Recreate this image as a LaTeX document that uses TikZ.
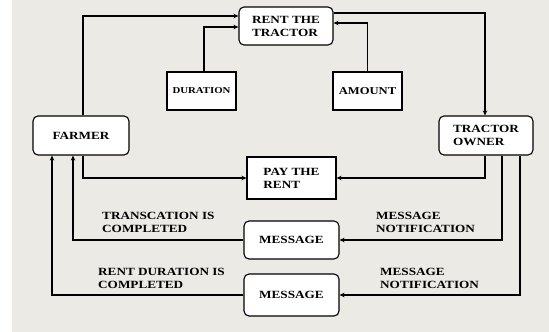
\documentclass[tikz,border=0pt]{standalone}
\usepackage{fontspec}
\setmainfont{Liberation Serif}[FakeStretch=1.2]
\usetikzlibrary{arrows.meta}
\definecolor{panel}{HTML}{ECEAE4}
\begin{document}
\begin{tikzpicture}[x=1pt,y=-1pt,
  txt/.style={font=\bfseries\fontsize{11}{13}\selectfont, align=left},
  boxbase/.style={draw=black, line width=1.1pt, fill=white, inner sep=2pt, txt},
  rbox/.style={boxbase, rounded corners=5pt},
  sbox/.style={boxbase},
  arr/.style={line width=1.4pt, -{Stealth[length=5pt,width=4.5pt]}},
  lbl/.style={txt, anchor=north west, inner sep=0pt}]
  % page and backdrop
  \useasboundingbox (0,0) rectangle (549,332);
  \fill[white] (0,0) rectangle (549,332);
  \fill[panel] (12,0) rectangle (549,332);

  % boxes
  \node[rbox, minimum width=94pt, minimum height=38pt] (rent) at (286,26) {RENT THE\\TRACTOR};
  \node[sbox, minimum width=69pt, minimum height=38pt, font=\bfseries\fontsize{9}{11}\selectfont] (duration) at (201.5,91) {DURATION};
  \node[sbox, minimum width=69pt, minimum height=38pt, font=\bfseries\fontsize{10.5}{12}\selectfont] (amount) at (367.5,91) {AMOUNT};
  \node[rbox, minimum width=96pt, minimum height=39pt] (farmer) at (81,135.5) {FARMER};
  \node[rbox, minimum width=94pt, minimum height=39pt] (owner) at (486,135.5) {TRACTOR\\OWNER};
  \node[sbox, minimum width=89pt, minimum height=42pt] (pay) at (291.5,178) {PAY THE\\RENT};
  \node[rbox, minimum width=95pt, minimum height=38pt] (msgA) at (291.5,240) {MESSAGE};
  \node[rbox, minimum width=95pt, minimum height=42pt] (msgB) at (291.5,295) {MESSAGE};

  % connectors
  \draw[arr] ([xshift=2pt]farmer.north) |- ([yshift=10pt]rent.west);
  \draw[arr] ([xshift=2.5pt]duration.north) |- ([yshift=-1pt]rent.west);
  \draw[arr] (amount.north) |- ([yshift=3pt]rent.east);
  \draw[arr] ([yshift=13pt]rent.east) -| ([xshift=-1pt]owner.north);
  \draw[arr] ([xshift=2pt]farmer.south) |- (pay.west);
  \draw[arr] ([xshift=-1pt]owner.south) |- (pay.east);
  \draw[arr] ([xshift=16pt]owner.south) |- (msgA.east);
  \draw[arr] (msgA.west) -| ([xshift=-8pt]farmer.south);
  \draw[arr] ([xshift=34pt]owner.south) |- (msgB.east);
  \draw[arr] (msgB.west) -| ([xshift=-29pt]farmer.south);

  % connector labels
  \node[lbl] (tdone) at (102,212) {TRANSCATION IS\\COMPLETED};
  \node[lbl] (noteA) at (376,212) {MESSAGE\\NOTIFICATION};
  \node[lbl] (rdone) at (98,268) {RENT DURATION IS\\COMPLETED};
  \node[lbl] (noteB) at (380,268) {MESSAGE\\NOTIFICATION};
\end{tikzpicture}
\end{document}
